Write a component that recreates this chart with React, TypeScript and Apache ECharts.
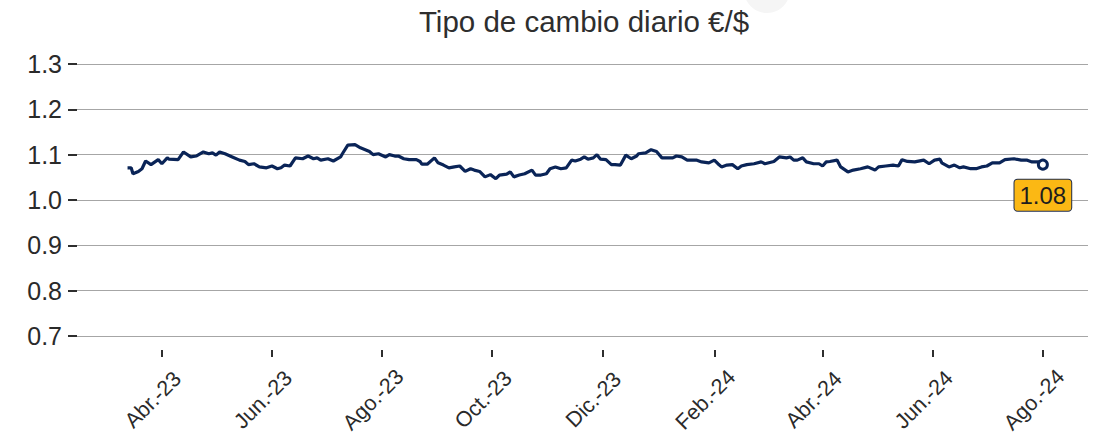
import React, { useEffect, useRef } from 'react';
import * as echarts from 'echarts';

const titleText = 'Tipo de cambio diario €/$';

const dates = [
  '2023-03-13', '2023-03-15', '2023-03-16', '2023-03-19', '2023-03-21', '2023-03-23', '2023-03-26', '2023-03-30',
  '2023-04-01', '2023-04-04', '2023-04-05', '2023-04-10', '2023-04-13', '2023-04-17', '2023-04-20', '2023-04-24',
  '2023-04-27', '2023-04-29', '2023-05-01', '2023-05-03', '2023-05-06', '2023-05-10', '2023-05-14', '2023-05-17',
  '2023-05-19', '2023-05-22', '2023-05-25', '2023-05-29', '2023-06-01', '2023-06-04', '2023-06-06', '2023-06-08',
  '2023-06-11', '2023-06-14', '2023-06-18', '2023-06-21', '2023-06-24', '2023-06-26', '2023-06-28', '2023-07-02',
  '2023-07-05', '2023-07-09', '2023-07-10', '2023-07-13', '2023-07-17', '2023-07-20', '2023-07-22', '2023-07-25',
  '2023-07-27', '2023-07-30', '2023-08-03', '2023-08-05', '2023-08-08', '2023-08-10', '2023-08-13', '2023-08-16',
  '2023-08-20', '2023-08-22', '2023-08-23', '2023-08-26', '2023-08-30', '2023-09-01', '2023-09-04', '2023-09-07',
  '2023-09-10', '2023-09-13', '2023-09-16', '2023-09-19', '2023-09-21', '2023-09-24', '2023-09-27', '2023-09-30',
  '2023-10-03', '2023-10-05', '2023-10-09', '2023-10-11', '2023-10-13', '2023-10-16', '2023-10-19', '2023-10-23',
  '2023-10-25', '2023-10-28', '2023-10-31', '2023-11-02', '2023-11-05', '2023-11-08', '2023-11-11', '2023-11-14',
  '2023-11-16', '2023-11-19', '2023-11-21', '2023-11-23', '2023-11-26', '2023-11-28', '2023-11-30', '2023-12-03',
  '2023-12-06', '2023-12-08', '2023-12-11', '2023-12-14', '2023-12-17', '2023-12-20', '2023-12-21', '2023-12-25',
  '2023-12-28', '2023-12-31', '2024-01-03', '2024-01-06', '2024-01-09', '2024-01-11', '2024-01-14', '2024-01-17',
  '2024-01-22', '2024-01-25', '2024-01-29', '2024-02-01', '2024-02-03', '2024-02-05', '2024-02-08', '2024-02-11',
  '2024-02-14', '2024-02-16', '2024-02-19', '2024-02-23', '2024-02-27', '2024-02-29', '2024-03-05', '2024-03-08',
  '2024-03-12', '2024-03-14', '2024-03-16', '2024-03-18', '2024-03-21', '2024-03-23', '2024-03-27', '2024-03-30',
  '2024-04-01', '2024-04-03', '2024-04-05', '2024-04-09', '2024-04-11', '2024-04-15', '2024-04-18', '2024-04-22',
  '2024-04-26', '2024-04-30', '2024-05-02', '2024-05-06', '2024-05-10', '2024-05-13', '2024-05-15', '2024-05-18',
  '2024-05-22', '2024-05-27', '2024-05-30', '2024-06-02', '2024-06-05', '2024-06-06', '2024-06-10', '2024-06-13',
  '2024-06-16', '2024-06-18', '2024-06-22', '2024-06-25', '2024-06-28', '2024-07-01', '2024-07-04', '2024-07-08',
  '2024-07-11', '2024-07-16', '2024-07-20', '2024-07-23', '2024-07-26', '2024-07-30', '2024-08-01',
];

const rates = [
  1.071, 1.071, 1.058, 1.063, 1.069, 1.086, 1.078, 1.089,
  1.080, 1.093, 1.090, 1.089, 1.106, 1.095, 1.097, 1.106,
  1.102, 1.104, 1.099, 1.106, 1.102, 1.095, 1.088, 1.085,
  1.078, 1.080, 1.073, 1.071, 1.075, 1.069, 1.071, 1.077,
  1.075, 1.093, 1.091, 1.097, 1.091, 1.093, 1.088, 1.091,
  1.086, 1.095, 1.102, 1.121, 1.122, 1.115, 1.112, 1.107,
  1.100, 1.102, 1.095, 1.100, 1.097, 1.097, 1.091, 1.089,
  1.089, 1.085, 1.079, 1.079, 1.093, 1.082, 1.077, 1.071,
  1.073, 1.075, 1.063, 1.069, 1.066, 1.063, 1.051, 1.056,
  1.047, 1.055, 1.057, 1.062, 1.051, 1.055, 1.058, 1.066,
  1.055, 1.055, 1.058, 1.069, 1.073, 1.069, 1.071, 1.088,
  1.086, 1.090, 1.095, 1.090, 1.093, 1.100, 1.090, 1.089,
  1.078, 1.078, 1.077, 1.099, 1.091, 1.097, 1.102, 1.104,
  1.111, 1.107, 1.093, 1.093, 1.093, 1.097, 1.095, 1.088,
  1.088, 1.084, 1.082, 1.088, 1.080, 1.073, 1.077, 1.078,
  1.069, 1.075, 1.078, 1.080, 1.084, 1.080, 1.085, 1.095,
  1.093, 1.095, 1.088, 1.088, 1.093, 1.084, 1.080, 1.080,
  1.075, 1.084, 1.085, 1.088, 1.073, 1.062, 1.066, 1.069,
  1.073, 1.066, 1.073, 1.075, 1.077, 1.075, 1.089, 1.085,
  1.084, 1.088, 1.080, 1.088, 1.090, 1.082, 1.073, 1.077,
  1.071, 1.073, 1.069, 1.069, 1.073, 1.075, 1.082, 1.082,
  1.089, 1.091, 1.088, 1.088, 1.084, 1.084, 1.078,
];

const tickDates = [
  '2023-04-01', '2023-06-01', '2023-08-01', '2023-10-01', '2023-12-01',
  '2024-02-01', '2024-04-01', '2024-06-01', '2024-08-01',
];
const tickLabels = [
  'Abr.-23', 'Jun.-23', 'Ago.-23', 'Oct.-23', 'Dic.-23',
  'Feb.-24', 'Abr.-24', 'Jun.-24', 'Ago.-24',
];

const axisStart = '2023-02-13';
const axisEnd = '2024-08-26';
const yMin = 0.7;
const yMax = 1.3;
const yStep = 0.1;

const FONT = '"Liberation Sans", Arial, Helvetica, sans-serif';
const NAVY = '#0a2457';

function ts(s: string): number {
  const [y, m, d] = s.split('-').map(Number);
  return Date.UTC(y, m - 1, d);
}

export default function App() {
  const ref = useRef<HTMLDivElement>(null);

  useEffect(() => {
    document.body.style.margin = '0';
    if (!ref.current) return;
    const chart = echarts.init(ref.current, null, { renderer: 'svg' });

    const tickVals = tickDates.map(ts);
    const seriesData = dates.map((d, i) => [ts(d), rates[i]]);
    const last = seriesData[seriesData.length - 1];

    const option: any = {
      animation: false,
      backgroundColor: '#ffffff',
      textStyle: { fontFamily: FONT },
      graphic: [
        {
          type: 'circle',
          shape: { cx: 767, cy: -10, r: 23 },
          style: { fill: '#f5f5f5' },
          silent: true,
        },
        {
          type: 'text',
          x: 584,
          y: 21,
          style: {
            text: titleText,
            fontSize: 29.5,
            fontFamily: FONT,
            fill: '#2e2e2e',
            align: 'center',
            verticalAlign: 'middle',
          },
        },
      ],
      grid: {
        left: 77,
        right: 9,
        top: 64,
        bottom: 101,
        containLabel: false,
        outerBoundsMode: 'none',
      },
      xAxis: {
        type: 'value',
        min: ts(axisStart),
        max: ts(axisEnd),
        offset: 14,
        axisLine: { show: false },
        splitLine: { show: false },
        axisTick: {
          show: true,
          customValues: tickVals,
          length: 7,
          lineStyle: { color: '#2e2e2e', width: 2 },
        },
        axisLabel: {
          show: true,
          customValues: tickVals,
          rotate: 45,
          align: 'center',
          verticalAlign: 'middle',
          margin: 41,
          padding: [0, 25, 0, 0],
          fontSize: 21.5,
          color: '#2a2a2a',
          fontFamily: FONT,
          hideOverlap: false,
          formatter: (v: number) => {
            let best = 0;
            for (let i = 1; i < tickVals.length; i++) {
              if (Math.abs(tickVals[i] - v) < Math.abs(tickVals[best] - v)) best = i;
            }
            return tickLabels[best];
          },
        },
      },
      yAxis: {
        type: 'value',
        min: yMin,
        max: yMax,
        interval: yStep,
        axisLine: { show: false },
        axisTick: { show: true, length: 9, lineStyle: { color: '#2e2e2e', width: 2 } },
        axisLabel: {
          fontSize: 25,
          color: '#2a2a2a',
          margin: 15,
          fontFamily: FONT,
          formatter: (v: number) => v.toFixed(1),
        },
        splitLine: { show: true, lineStyle: { color: '#a6a6a6', width: 1 } },
      },
      series: [
        {
          type: 'line',
          data: seriesData,
          showSymbol: false,
          symbol: 'none',
          lineStyle: { color: NAVY, width: 3.2 },
          z: 3,
        },
        {
          type: 'scatter',
          data: [last],
          symbol: 'circle',
          symbolSize: 9,
          itemStyle: { color: '#ffffff', borderColor: NAVY, borderWidth: 3, opacity: 1 },
          z: 5,
          label: {
            show: true,
            position: 'bottom',
            distance: 9,
            formatter: (p: any) => Number(p.value[1]).toFixed(2),
            backgroundColor: '#fbb814',
            borderColor: '#1f2d4d',
            borderWidth: 1,
            borderRadius: 3,
            padding: [4, 5, 3, 5],
            fontSize: 24,
            color: '#1e1e1e',
            fontFamily: FONT,
            opacity: 1,
          },
        },
      ],
    };

    chart.setOption(option);
    return () => {
      chart.dispose();
    };
  }, []);

  return (
    <div
      ref={ref}
      style={{ position: 'fixed', left: 0, top: 0, width: 1097, height: 437 }}
    />
  );
}
